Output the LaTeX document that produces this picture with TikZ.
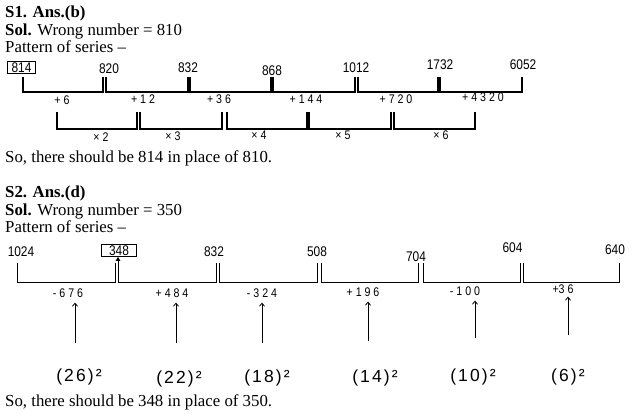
\documentclass[tikz,border=0pt]{standalone}
\usepackage{fontspec}
\setmainfont{Liberation Serif}
\newfontfamily\numfont[FakeStretch=0.85]{Liberation Sans}
\newfontfamily\sqfont[LetterSpace=12]{Liberation Sans}
\usetikzlibrary{positioning, arrows.meta}

\begin{document}
\begin{tikzpicture}[x=1pt, y=-1pt,
    txtline/.style = {anchor=base west, inner sep=0pt,
      font=\fontsize{16.8}{18}\selectfont},
    num/.style = {inner sep=0pt, font=\numfont\fontsize{14}{14}\selectfont},
    numbox/.style = {num, draw, inner ysep=1pt},
    op/.style = {inner sep=0pt, font=\numfont\fontsize{12.5}{12}\selectfont},
    sq/.style = {inner sep=0pt, font=\sqfont\fontsize{17.5}{17}\selectfont},
    brkA/.style = {line width=1.9pt},
    brkB/.style = {line width=0.9pt},
    uparr/.style = {line width=0.8pt, shorten >=5pt,
      -{Straight Barb[length=3pt, width=5pt]}},
  ]
\useasboundingbox (0,0) rectangle (637,414);

% first question
\node[txtline] (h1) at (5,17.5) {\textbf{S1. Ans.(b)}};
\node[txtline] (w1) at (5,35.5) {\textbf{Sol.} Wrong number = 810};
\node[txtline] (p1) at (5,53) {Pattern of series –};

\node[numbox, line width=1.6pt, inner xsep=4pt] (n1) at (21.5,67.5) {814};
\node[num] (n2) at (109,69) {820};
\node[num] (n3) at (188,68) {832};
\node[num] (n4) at (272,71) {868};
\node[num] (n5) at (356,68) {1012};
\node[num] (n6) at (440,65) {1732};
\node[num] (n7) at (523,65) {6052};

\draw[brkA] (23,77) |- (103,92) -- (103,77);
\draw[brkA] (106,77) |- (188,92) -- (188,77);
\draw[brkA] (190,77) |- (271,92) -- (271,77);
\draw[brkA] (273,77) |- (355,92) -- (355,77);
\draw[brkA] (358,77) |- (438,92) -- (438,77);
\draw[brkA] (440,77) |- (522,92) -- (522,77);

\node[op] (o1) at (62,100) {+ 6};
\node[op] (o2) at (143,99) {+ 1 2};
\node[op] (o3) at (219,99) {+ 3 6};
\node[op] (o4) at (306,99) {+ 1 4 4};
\node[op] (o5) at (396,99) {+ 7 2 0};
\node[op] (o6) at (483,97) {+ 4 3 2 0};

\draw[brkA] (57,112) |- (137,129) -- (137,112);
\draw[brkA] (140,112) |- (222,129) -- (222,112);
\draw[brkA] (227,112) |- (307,129) -- (307,112);
\draw[brkA] (309,112) |- (391,129) -- (391,112);
\draw[brkA] (394,112) |- (475,129) -- (475,112);

\node[op] (m1) at (101,137) {× 2};
\node[op] (m2) at (173,136.5) {× 3};
\node[op] (m3) at (259,135) {× 4};
\node[op] (m4) at (343,135) {× 5};
\node[op] (m5) at (441,135) {× 6};

\node[txtline] (c1) at (5,163) {So, there should be 814 in place of 810.};

% second question
\node[txtline] (h2) at (5,198) {\textbf{S2. Ans.(d)}};
\node[txtline] (w2) at (5,215.5) {\textbf{Sol.} Wrong number = 350};
\node[txtline] (p2) at (5,233) {Pattern of series –};

\node[num] (r1) at (21,252) {1024};
\node[numbox, line width=0.8pt, inner xsep=7.5pt] (r2) at (119,250.5) {348};
\node[num] (r3) at (214,252) {832};
\node[num] (r4) at (317,252) {508};
\node[num] (r5) at (416,256.5) {704};
\node[num] (r6) at (512.5,248) {604};
\node[num] (r7) at (615,250) {640};

\coordinate (b2) at (118,282.5);
\draw[brkB] (17,263) |- (115,282.5) -- (115,263);
\draw[brkB, {Triangle[length=4pt, width=4.5pt]}-] (b2 |- r2.south) -- (b2) -- (216,282.5) -- (216,263);
\draw[brkB] (219,263) |- (317,282.5) -- (317,263);
\draw[brkB] (321,263) |- (418,282.5) -- (418,263);
\draw[brkB] (423,263) |- (520.5,282.5) -- (520.5,263);
\draw[brkB] (523.5,263) |- (619.5,282.5) -- (619.5,263);

\node[op] (d1) at (68,293) {- 6 7 6};
\node[op] (d2) at (172,293) {+ 4 8 4};
\node[op] (d3) at (262,293) {- 3 2 4};
\node[op] (d4) at (363,292) {+ 1 9 6};
\node[op] (d5) at (465,291) {- 1 0 0};
\node[op] (d6) at (563,289) {+3 6};

\coordinate (a1) at (75,343);
\coordinate (a2) at (176,343);
\coordinate (a3) at (262,343);
\coordinate (a4) at (368,341);
\coordinate (a5) at (475,338);
\coordinate (a6) at (568,335);
\draw[uparr] (a1) -- (a1 |- d1.south);
\draw[uparr] (a2) -- (a2 |- d2.south);
\draw[uparr] (a3) -- (a3 |- d3.south);
\draw[uparr] (a4) -- (a4 |- d4.south);
\draw[uparr] (a5) -- (a5 |- d5.south);
\draw[uparr, shorten >=3pt] (a6) -- (a6 |- d6.south);

\node[sq] (q1) at (79,377) {(26)²};
\node[sq] (q2) at (179,379) {(22)²};
\node[sq] (q3) at (267,378) {(18)²};
\node[sq] (q4) at (375,378) {(14)²};
\node[sq] (q5) at (473,377) {(10)²};
\node[sq] (q6) at (568,377) {(6)²};

\node[txtline] (c2) at (5,406) {So, there should be 348 in place of 350.};
\end{tikzpicture}
\end{document}
